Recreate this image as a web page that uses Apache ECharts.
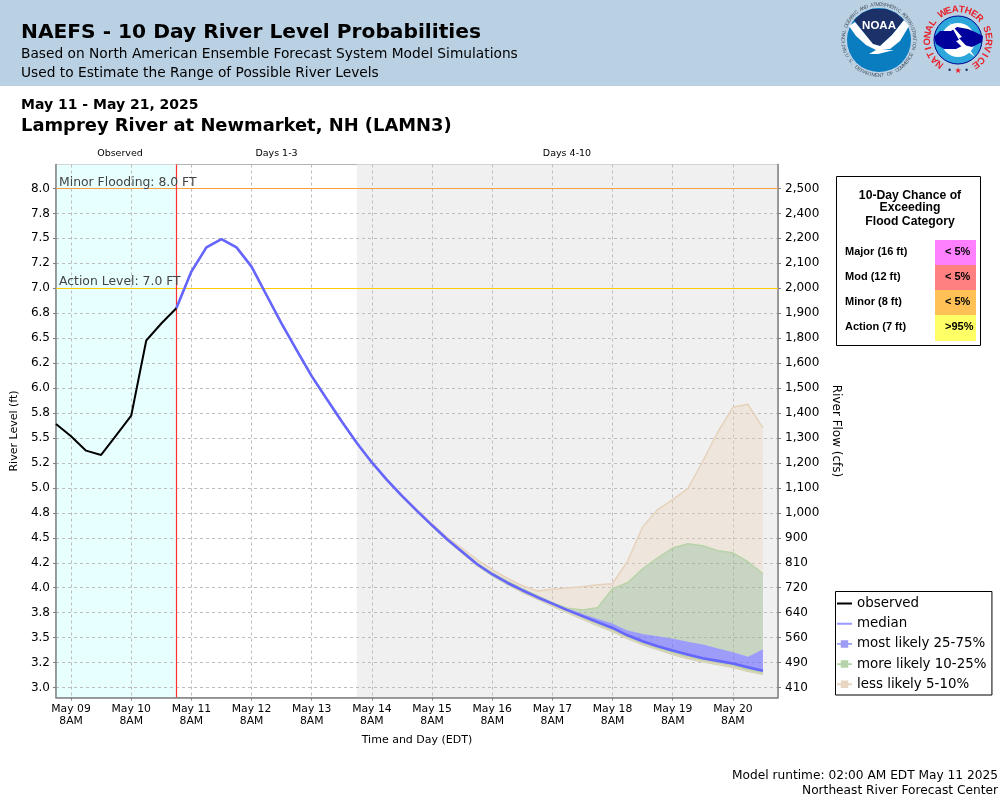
<!DOCTYPE html>
<html>
<head>
<meta charset="utf-8">
<title>NAEFS River Level Probabilities</title>
<script src="https://cdn.jsdelivr.net/npm/echarts@6/dist/echarts.min.js"></script>
<style>
html, body { margin: 0; padding: 0; background: #fff; }
#main { width: 1000px; height: 800px; }
</style>
</head>
<body>
<div id="main"></div>
<script>
// tick labels
var levelTicks = [8, 7.75, 7.5, 7.25, 7, 6.75, 6.5, 6.25, 6, 5.75, 5.5, 5.25, 5, 4.75, 4.5, 4.25, 4, 3.75, 3.5, 3.25, 3];
var levelLabels = ['8.0', '7.8', '7.5', '7.2', '7.0', '6.8', '6.5', '6.2', '6.0', '5.8', '5.5', '5.2', '5.0', '4.8', '4.5', '4.2', '4.0', '3.8', '3.5', '3.2', '3.0'];
var flowLabels = ['2,500', '2,400', '2,200', '2,100', '2,000', '1,900', '1,800', '1,600', '1,500', '1,400', '1,300', '1,200', '1,100', '1,000', '900', '810', '720', '640', '560', '490', '410'];
var dayLabels = ['May 09', 'May 10', 'May 11', 'May 12', 'May 13', 'May 14', 'May 15', 'May 16', 'May 17', 'May 18', 'May 19', 'May 20'];

// river level (ft), one value every 6 hours
var observed = [5.64, 5.517, 5.373, 5.33, 5.527, 5.723, 6.477, 6.647, 6.80];
var median = [6.80, 7.167, 7.41, 7.493, 7.41, 7.217, 6.93, 6.645, 6.38, 6.12, 5.89, 5.665, 5.45, 5.255, 5.08, 4.92, 4.77, 4.625, 4.485, 4.36, 4.235, 4.135, 4.05, 3.975, 3.905, 3.84, 3.775, 3.715, 3.655, 3.597, 3.523, 3.463, 3.413, 3.37, 3.33, 3.293, 3.267, 3.24, 3.203, 3.167];
var p95 = [6.80, 7.167, 7.41, 7.493, 7.41, 7.217, 6.93, 6.645, 6.38, 6.12, 5.89, 5.665, 5.45, 5.26, 5.087, 4.928, 4.782, 4.64, 4.505, 4.395, 4.28, 4.18, 4.095, 4.02, 3.968, 3.985, 3.998, 4.01, 4.03, 4.04, 4.267, 4.607, 4.783, 4.883, 4.993, 5.267, 5.56, 5.807, 5.837, 5.60];
var p90 = [6.80, 7.167, 7.41, 7.493, 7.41, 7.217, 6.93, 6.645, 6.38, 6.12, 5.89, 5.665, 5.45, 5.257, 5.083, 4.923, 4.775, 4.63, 4.492, 4.37, 4.247, 4.147, 4.065, 3.99, 3.92, 3.85, 3.795, 3.777, 3.80, 3.99, 4.05, 4.19, 4.30, 4.397, 4.44, 4.42, 4.37, 4.35, 4.26, 4.14];
var p75 = [6.80, 7.167, 7.41, 7.493, 7.41, 7.217, 6.93, 6.645, 6.38, 6.12, 5.89, 5.665, 5.45, 5.255, 5.08, 4.92, 4.772, 4.627, 4.487, 4.362, 4.24, 4.14, 4.055, 3.98, 3.91, 3.85, 3.785, 3.73, 3.68, 3.633, 3.563, 3.53, 3.507, 3.48, 3.45, 3.423, 3.383, 3.347, 3.30, 3.373];
var p25 = [6.80, 7.167, 7.41, 7.493, 7.41, 7.217, 6.93, 6.645, 6.38, 6.12, 5.89, 5.665, 5.45, 5.255, 5.08, 4.92, 4.768, 4.623, 4.483, 4.357, 4.23, 4.13, 4.045, 3.97, 3.90, 3.835, 3.77, 3.705, 3.64, 3.58, 3.507, 3.447, 3.397, 3.35, 3.31, 3.277, 3.25, 3.223, 3.18, 3.147];
var p10 = [6.80, 7.167, 7.41, 7.493, 7.41, 7.217, 6.93, 6.645, 6.38, 6.12, 5.89, 5.665, 5.45, 5.253, 5.077, 4.917, 4.765, 4.619, 4.479, 4.352, 4.225, 4.125, 4.038, 3.96, 3.89, 3.82, 3.755, 3.69, 3.625, 3.565, 3.495, 3.435, 3.385, 3.335, 3.295, 3.262, 3.235, 3.208, 3.168, 3.137];
var p05 = [6.80, 7.167, 7.41, 7.493, 7.41, 7.217, 6.93, 6.645, 6.38, 6.12, 5.89, 5.665, 5.45, 5.251, 5.075, 4.915, 4.763, 4.617, 4.477, 4.349, 4.222, 4.12, 4.033, 3.955, 3.885, 3.815, 3.75, 3.685, 3.62, 3.56, 3.49, 3.43, 3.38, 3.33, 3.29, 3.257, 3.23, 3.203, 3.163, 3.132];

// flood category table
var floodNames = ['Major (16 ft)', 'Mod (12 ft)', 'Minor (8 ft)', 'Action (7 ft)'];
var floodChances = ['< 5%', '< 5%', '< 5%', '>95%'];
var floodColors = ['#ff80ff', '#ff8080', '#ffc055', '#ffff66'];

// x axis has one slot every 6 hours, slot 0 is May 09 2AM, slot 48 is May 21 2AM
var slots = [];
for (var s = 0; s <= 48; s++) {
    slots.push((s - 1) % 4 == 0 && dayLabels[(s - 1) / 4] ? dayLabels[(s - 1) / 4] + '\n8AM' : '');
}
var runTime = 8;    // May 11 2AM
var day4Start = 20; // May 14 2AM
var axisEnd = 48;

function isDayTick(i) { return (i - 1) % 4 == 0; }
function isDayLabel(i) { return (i - 1) % 4 == 0 && i < 48; }

function timed(start, values) {
    return values.map(function (v, i) { return [start + i, v]; });
}
function band(name, lower, upper, fill, stroke) {
    return {
        name: name,
        type: 'line',
        stack: 'bands',
        symbol: 'none',
        lineStyle: { color: stroke, width: 1.5 },
        itemStyle: { color: stroke },
        areaStyle: { color: fill, opacity: 1 },
        data: timed(runTime, upper.map(function (v, i) { return v - lower[i]; }))
    };
}

var TAN = 'rgba(235,210,180,0.3)', TAN_LINE = '#e6d2bb';
var GREEN = 'rgba(150,180,140,0.45)', GREEN_LINE = '#b9d3a8';
var BLUE = 'rgba(102,102,255,0.6)', BLUE_LINE = '#9c9cfb';

// legend icons, the empty subpaths only hold the icon box open
var LINE_ICON = 'path://M0,0L0,0ZM16,16L16,16ZM0,7L16,7L16,9L0,9Z';
var BOX_ICON = 'path://M0,0L0,0ZM16,16L16,16ZM0,7L4,7L4,4L12,4L12,7L16,7L16,9L12,9L12,12L4,12L4,9L0,9Z';

var font = '"DejaVu Sans"';
var arial = '"Liberation Sans"';

function txt(x, y, text, size, weight, align, family, color) {
    return {
        type: 'text', x: x, y: y,
        style: {
            text: text, fontSize: size, fontWeight: weight || 'normal', fontFamily: family || font,
            fill: color || '#000', align: align || 'left', verticalAlign: 'middle'
        }
    };
}
function arc(str, cx, cy, r, from, step, size, color, weight, bottom) {
    return str.split('').map(function (c, i) {
        var a = (from + i * step) * Math.PI / 180;
        return {
            type: 'text',
            x: cx + r * Math.sin(a), y: cy - r * Math.cos(a),
            rotation: bottom ? Math.PI - a : -a,
            style: { text: c, fontSize: size, fontWeight: weight, fontFamily: arial, fill: color, align: 'center', verticalAlign: 'middle' }
        };
    });
}

var graphics = [
    { type: 'rect', shape: { x: 0, y: 0, width: 1000, height: 86 }, style: { fill: '#bad1e4' } },
    txt(21, 33, 'NAEFS - 10 Day River Level Probabilities', 20.2, 'bold'),
    txt(21, 54, 'Based on North American Ensemble Forecast System Model Simulations', 13.75),
    txt(21, 73, 'Used to Estimate the Range of Possible River Levels', 13.75),
    txt(21, 105, 'May 11 - May 21, 2025', 14, 'bold'),
    txt(21, 126, 'Lamprey River at Newmarket, NH (LAMN3)', 17.9, 'bold'),
    txt(120, 154, 'Observed', 9.5, 'normal', 'center'),
    txt(276.5, 154, 'Days 1-3', 9.5, 'normal', 'center'),
    txt(567, 154, 'Days 4-10', 9.5, 'normal', 'center'),
    txt(998, 776, 'Model runtime: 02:00 AM EDT May 11 2025', 12.2, 'normal', 'right'),
    txt(998, 791, 'Northeast River Forecast Center', 12.2, 'normal', 'right'),

    // NOAA logo
    { type: 'circle', shape: { cx: 879, cy: 40, r: 32 }, style: { fill: '#0a7cc0' } },
    { type: 'polygon', shape: { points: [[854, 20], [862, 13], [872, 9], [886, 9], [896, 13], [904, 20], [893, 34], [880, 46], [872, 44], [864, 33]] }, style: { fill: '#1c3168' } },
    { type: 'polygon', shape: { points: [[849, 26], [855, 22], [864, 33], [873, 44], [880, 46], [892, 35], [904, 20], [909, 26], [900, 41], [890, 49], [882, 50], [894, 50], [878, 54], [869, 54], [876, 50], [866, 45], [856, 36]] }, style: { fill: '#fff' } },
    txt(879, 25.5, 'NOAA', 11.5, 'bold', 'center', arial, '#fff'),

    // NWS logo
    { type: 'circle', shape: { cx: 958, cy: 40, r: 24 }, style: { fill: '#2da6dc', stroke: '#00008b', lineWidth: 1 } },
    { type: 'circle', shape: { cx: 958, cy: 40, r: 17 }, style: { fill: '#fff' } },
    { type: 'polygon', shape: { points: [[934, 37], [940, 31], [951, 31], [957, 27], [968, 29], [975, 32], [983, 36], [982, 42], [972, 47], [964, 45], [956, 49], [944, 49], [936, 44]] }, style: { fill: '#00009c' } },
    { type: 'polygon', shape: { points: [[949, 22], [962, 37], [959, 38], [970, 50], [975, 57], [964, 49], [956, 41], [959, 40]] }, style: { fill: '#fff' } },
    txt(958, 71, '★', 8, 'normal', 'center', font, '#e8212b'),
    txt(949.5, 70.5, '•', 8, 'normal', 'center', font, '#1c3168'),
    txt(966.5, 70.5, '•', 8, 'normal', 'center', font, '#1c3168'),

    // flood table
    { type: 'rect', shape: { x: 836.5, y: 176.5, width: 144, height: 169 }, style: { fill: '#fff', stroke: '#000', lineWidth: 1 } },
    txt(910, 195.5, '10-Day Chance of', 12.2, 'bold', 'center', arial),
    txt(910, 208, 'Exceeding', 12.2, 'bold', 'center', arial),
    txt(910, 221.5, 'Flood Category', 12.2, 'bold', 'center', arial)
];
graphics = graphics
    .concat(arc('NATIONAL OCEANIC AND ATMOSPHERIC ADMINISTRATION', 879, 40, 35.5, -108, 4.6, 5, '#4a5560', 'normal', false))
    .concat(arc('U.S. DEPARTMENT OF COMMERCE', 879, 40, 35.5, 244, -5, 5, '#4a5560', 'normal', true))
    .concat(arc('NATIONAL WEATHER SERVICE', 958, 40, 30.5, -143, 12.5, 9.5, '#e8212b', 'bold', false));

floodNames.forEach(function (name, i) {
    var top = 240 + i * 25;
    graphics.push({ type: 'rect', shape: { x: 935, y: top, width: 41, height: i == 3 ? 26 : 25 }, style: { fill: floodColors[i] } });
    graphics.push(txt(845, top + 11.5, name, 11, 'bold', 'left', arial));
    graphics.push(txt(945, top + 11.5, floodChances[i], 11, 'bold', 'left', arial));
});

var chart = echarts.init(document.getElementById('main'));

var option = {
    animation: false,
    backgroundColor: '#fff',
    textStyle: { fontFamily: font },
    graphic: { elements: graphics },
    grid: {
        left: 56, right: 222, top: 164.5, bottom: 102.5,
        show: true, backgroundColor: 'transparent', borderColor: '#b4b4b4', borderWidth: 1
    },
    legend: {
        left: 835.5, top: 591.5,
        orient: 'vertical',
        backgroundColor: '#fff',
        borderColor: '#000',
        borderWidth: 1,
        borderRadius: 0,
        padding: [4.5, 5.5, 3.2, 1.5],
        itemGap: 5.2,
        itemWidth: 15,
        itemHeight: 16,
        selectedMode: false,
        textStyle: { fontFamily: font, fontSize: 13.4, color: '#000' },
        data: [
            { name: 'observed', icon: LINE_ICON, itemStyle: { color: '#000' } },
            { name: 'median', icon: LINE_ICON, itemStyle: { color: '#9999ff' } },
            { name: 'most likely 25-75%', icon: BOX_ICON, itemStyle: { color: '#9c9cf5' } },
            { name: 'more likely 10-25%', icon: BOX_ICON, itemStyle: { color: '#b5d3ab' } },
            { name: 'less likely 5-10%', icon: BOX_ICON, itemStyle: { color: '#e8d6c2' } }
        ]
    },
    xAxis: {
        type: 'category',
        z: 1,
        boundaryGap: false,
        data: slots,
        name: 'Time and Day (EDT)',
        nameLocation: 'middle',
        nameGap: 37.5,
        nameTextStyle: { fontSize: 11, color: '#000', fontFamily: font },
        axisLine: { lineStyle: { color: '#808080', width: 1.5 } },
        axisTick: { show: true, length: 3, interval: isDayTick, lineStyle: { color: '#808080' } },
        axisLabel: {
            interval: isDayLabel,
            color: '#000', fontSize: 10.8, fontFamily: font, lineHeight: 12, margin: 6, hideOverlap: false
        },
        splitLine: { show: true, interval: isDayTick, lineStyle: { color: '#bdbdbd', type: [3, 3], width: 1 } }
    },
    yAxis: [{
        type: 'value',
        z: 1,
        min: 2.9,
        max: 8.24,
        name: 'River Level (ft)',
        nameLocation: 'middle',
        nameGap: 31,
        nameTextStyle: { fontSize: 11, color: '#000', fontFamily: font },
        axisLine: { show: true, lineStyle: { color: '#808080', width: 1.5 } },
        axisTick: { show: true, length: 3, lineStyle: { color: '#808080' }, customValues: levelTicks },
        axisLabel: {
            customValues: levelTicks,
            formatter: function (v) { return levelLabels[levelTicks.indexOf(v)]; },
            color: '#000', fontSize: 12, fontFamily: font, margin: 6, hideOverlap: false
        },
        splitLine: { show: true, lineStyle: { color: '#bdbdbd', type: [3, 3], width: 1 } }
    }, {
        type: 'value',
        z: 1,
        position: 'right',
        min: 2.9,
        max: 8.24,
        name: 'River Flow (cfs)',
        nameLocation: 'middle',
        nameGap: 44,
        nameRotate: -90,
        nameTextStyle: { fontSize: 12, color: '#000', fontFamily: font },
        axisLine: { show: true, lineStyle: { color: '#808080', width: 1.5 } },
        axisTick: { show: true, length: 3, lineStyle: { color: '#808080' }, customValues: levelTicks },
        axisLabel: {
            customValues: levelTicks,
            formatter: function (v) { return flowLabels[levelTicks.indexOf(v)]; },
            color: '#000', fontSize: 12, fontFamily: font, margin: 7, hideOverlap: false
        },
        splitLine: { show: false }
    }],
    series: [
        {
            name: 'base', type: 'line', stack: 'bands', symbol: 'none',
            lineStyle: { color: GREEN_LINE, width: 1.5 },
            data: timed(runTime, p05)
        },
        band('less likely 5-10%', p05, p10, TAN, TAN_LINE),
        band('more likely 10-25%', p10, p25, GREEN, GREEN_LINE),
        band('most likely 25-75%', p25, p75, BLUE, BLUE_LINE),
        band('more likely 10-25%', p75, p90, GREEN, GREEN_LINE),
        band('less likely 5-10%', p90, p95, TAN, TAN_LINE),
        {
            name: 'median', type: 'line', symbol: 'none', z: 4,
            lineStyle: { color: '#6666ff', width: 2.6 },
            data: timed(runTime, median)
        },
        {
            name: 'observed', type: 'line', symbol: 'none', z: 5,
            lineStyle: { color: '#000', width: 2 },
            data: timed(0, observed),
            markArea: {
                silent: true,
                z: 0,
                data: [
                    [{ xAxis: 0, itemStyle: { color: '#e8ffff' } }, { xAxis: runTime }],
                    [{ xAxis: day4Start, itemStyle: { color: '#f0f0f0' } }, { xAxis: axisEnd }]
                ]
            },
            markLine: {
                silent: true,
                symbol: 'none',
                z: 3,
                data: [
                    { yAxis: 8, lineStyle: { color: '#ffa040', type: 'solid', width: 1.2 },
                      label: { formatter: 'Minor Flooding: 8.0 FT' } },
                    { yAxis: 7, lineStyle: { color: '#ffcc00', type: 'solid', width: 1.2 },
                      label: { formatter: 'Action Level: 7.0 FT' } },
                    { xAxis: runTime, lineStyle: { color: '#ff3030', type: 'solid', width: 1.2 }, label: { show: false } }
                ],
                label: {
                    position: 'insideStartTop', distance: [3, 0],
                    color: '#444', fontSize: 12.4, fontFamily: font
                }
            }
        }
    ]
};

chart.setOption(option);
</script>
</body>
</html>
